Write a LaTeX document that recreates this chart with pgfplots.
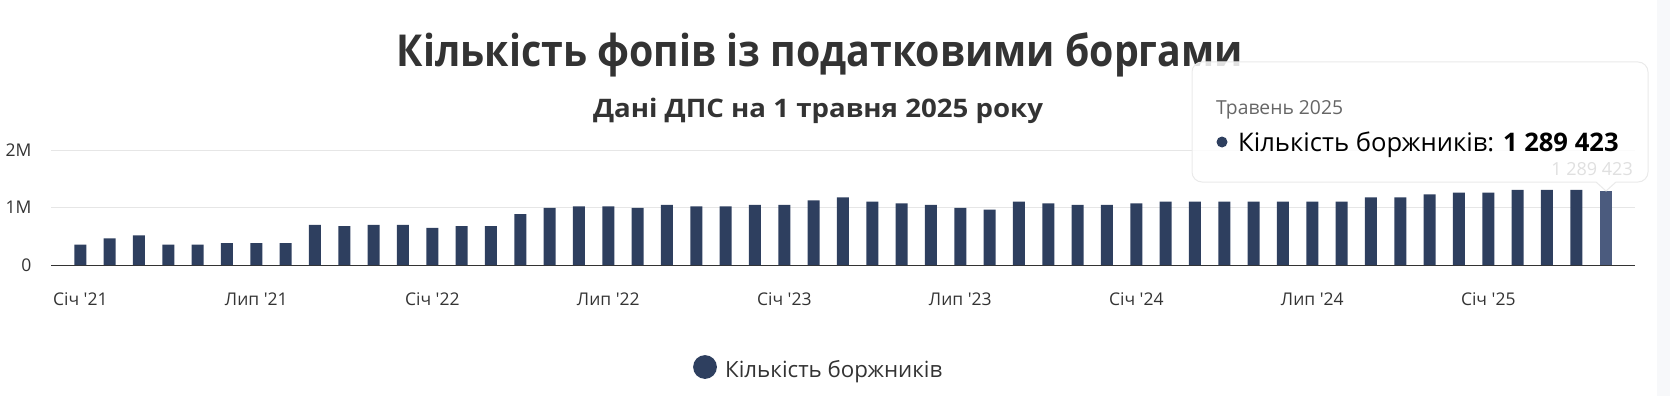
\documentclass[border=0pt]{standalone}
\usepackage{pgfplots}
\pgfplotsset{compat=1.18}
\usepackage{fontspec}
\setmainfont{Open Sans}[Ligatures=TeXOff]
\definecolor{barc}{HTML}{2E3F5F}
\definecolor{hovc}{HTML}{4B5B7E}
\definecolor{txt}{HTML}{333333}
\definecolor{gridc}{HTML}{E6E6E6}
\definecolor{axisc}{HTML}{333333}
\definecolor{strip}{HTML}{F7F8FA}
\begin{document}
\begin{tikzpicture}[x=1pt,y=1pt]
\useasboundingbox (0,0) rectangle (1670,-396);
\fill[strip] (1657,0) rectangle (1670,-396);
\begin{axis}[
  at={(51pt,-265pt)}, anchor=south west,
  scale only axis, width=1584pt, height=114.6pt,
  xmin=-1, xmax=53, ymin=0, ymax=2000000,
  axis x line*=bottom, axis y line*=left,
  y axis line style={draw=none},
  x axis line style={color=axisc, line width=1pt},
  major tick length=0pt, tick style={draw=none},
  ymajorgrids, grid style={color=gridc, line width=1pt},
  xtick={0,6,12,18,24,30,36,42,48},
  xticklabels={Січ '21,Лип '21,Січ '22,Лип '22,Січ '23,Лип '23,Січ '24,Лип '24,Січ '25},
  ytick={0,1000000,2000000},
  yticklabels={0,1M,2M},
  scaled y ticks=false,
  xticklabel style={font=\fontsize{17.5}{20}\selectfont, text=txt, anchor=base, yshift=-40.8pt},
  yticklabel style={font=\fontsize{17.5}{20}\selectfont, text=txt, anchor=base east, xshift=-16pt, yshift=-6.2pt},
  ybar, bar width=12pt, bar shift=0pt,
  clip=false,
]
\addplot[fill=barc, draw=none] coordinates {
(0,355000) (1,463000) (2,518000) (3,355000) (4,355000) (5,380000) (6,380000) (7,380000)
(8,700000) (9,677000) (10,700000) (11,700000) (12,647000) (13,677000) (14,677000) (15,890000)
(16,995000) (17,1021000) (18,1021000) (19,995000) (20,1050000) (21,1021000) (22,1021000) (23,1050000)
(24,1050000) (25,1127000) (26,1181000) (27,1104000) (28,1074000) (29,1050000) (30,995000) (31,967000)
(32,1104000) (33,1074000) (34,1050000) (35,1050000) (36,1074000) (37,1104000) (38,1104000) (39,1104000)
(40,1104000) (41,1104000) (42,1104000) (43,1104000) (44,1181000) (45,1181000) (46,1234000) (47,1265000)
(48,1265000) (49,1311000) (50,1311000) (51,1311000)
};
\addplot[fill=hovc, draw=none] coordinates {(52,1289423)};
\end{axis}
% title and subtitle
\node[anchor=base, text=txt, inner sep=0pt] at (820,-66) {\resizebox{846pt}{\height}{\fontsize{44}{50}\selectfont\bfseries Кількість фопів із податковими боргами}};
\node[anchor=base, text=txt, inner sep=0pt] at (818,-117) {\resizebox{450pt}{\height}{\fontsize{25.5}{30}\selectfont\bfseries Дані ДПС на 1 травня 2025 року}};
% tooltip
\fill[white, opacity=0.85] (1192,-62) [rounded corners=10pt] -- (1648,-62) -- (1648,-182) [sharp corners] -- (1616,-182) -- (1606,-191) -- (1596,-182) [rounded corners=10pt] -- (1192,-182) -- cycle;
\draw[color=gridc!80!black!30, line width=1pt] (1192,-62) [rounded corners=10pt] -- (1648,-62) -- (1648,-182) [sharp corners] -- (1616,-182) -- (1606,-191) -- (1596,-182) [rounded corners=10pt] -- (1192,-182) -- cycle;
\node[anchor=base east, inner sep=0pt, text=black!12] at (1633,-175) {\fontsize{18}{21}\selectfont 1 289 423};
\node[anchor=base west, inner sep=0pt, text=black!60] at (1216,-114) {\fontsize{19.3}{22}\selectfont Травень 2025};
\fill[barc] (1222,-142) circle (5.5);
\node[anchor=base west, inner sep=0pt, text=black] at (1238,-151) {\fontsize{25.6}{30}\selectfont Кількість боржників: \textbf{1 289 423}};
% legend
\fill[barc] (705,-367) circle (11.9);
\node[anchor=base west, inner sep=0pt, text=txt] at (725,-377.5) {\fontsize{22.3}{26}\selectfont Кількість боржників};
\end{tikzpicture}
\end{document}
